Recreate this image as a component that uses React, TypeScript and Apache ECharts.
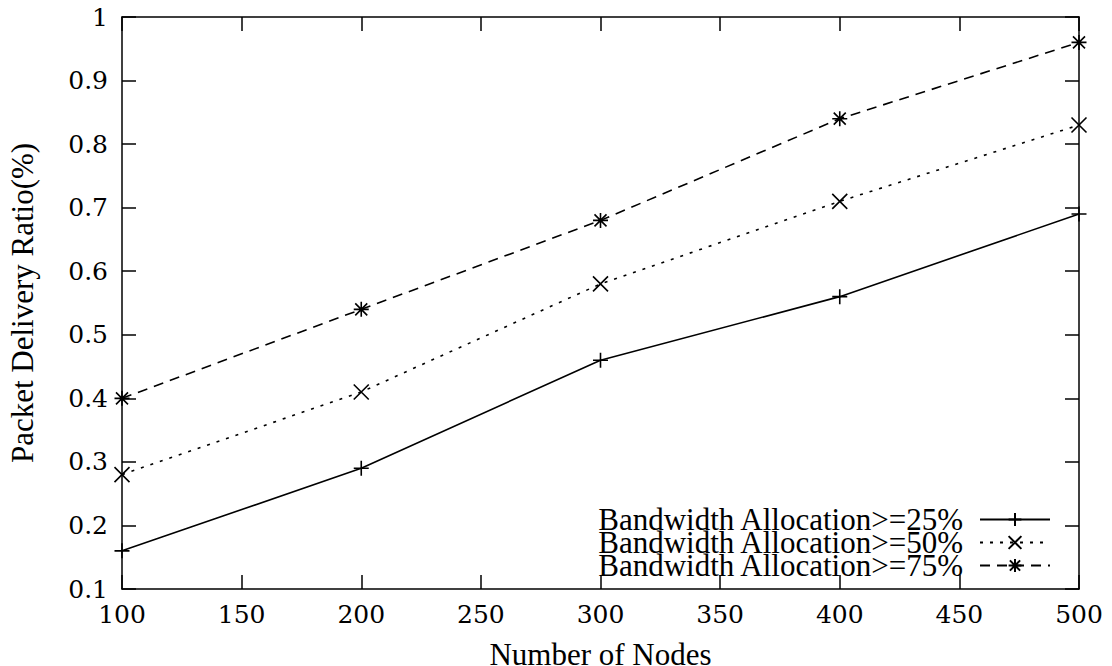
import React, { useEffect, useRef } from "react";
import * as echarts from "echarts";

const nodes = [100, 200, 300, 400, 500];
const bw25 = [0.16, 0.29, 0.46, 0.56, 0.69];
const bw50 = [0.28, 0.41, 0.58, 0.71, 0.83];
const bw75 = [0.40, 0.54, 0.68, 0.84, 0.96];
const seriesNames = [
  "Bandwidth Allocation>=25%",
  "Bandwidth Allocation>=50%",
  "Bandwidth Allocation>=75%",
];

const FONT = "Liberation Serif";
const TICK_FONT = "'DejaVu Serif', serif";
const PLUS = "path://M0,-1L0,1M-1,0L1,0";
const CROSS = "path://M-1,-1L1,1M-1,1L1,-1";
const STAR = "path://M0,-1L0,1M-1,0L1,0M-0.8,-0.8L0.8,0.8M-0.8,0.8L0.8,-0.8";

export default function App() {
  const ref = useRef<HTMLDivElement>(null);
  useEffect(() => {
    if (!ref.current) return;
    const chart = echarts.init(ref.current, undefined, { renderer: "svg" });
    const mk = (name: string, vals: number[], symbol: string, type: any) => ({
      name,
      type: "line",
      data: nodes.map((n, i) => [n, vals[i]]),
      symbol,
      symbolSize: 15,
      lineStyle: { color: "#000", width: 1.6, type },
      itemStyle: { color: "#000", borderColor: "#000", borderWidth: 1.6 },
      emphasis: { disabled: true },
    });
    const axisCommon = {
      type: "value" as const,
      axisLine: { show: true, lineStyle: { color: "#000", width: 1.5 } },
      axisTick: { show: true, inside: true, length: 14, lineStyle: { color: "#000", width: 1.5 } },
      splitLine: { show: false },
    };
    chart.setOption({
      animation: false,
      textStyle: { fontFamily: FONT, color: "#000" },
      grid: { left: 122, right: 33, top: 17, bottom: 77, show: false, containLabel: false, outerBoundsMode: "none" },
      legend: {
        orient: "vertical",
        right: 56,
        top: 499,
        align: "right",
        itemGap: -8,
        itemWidth: 70,
        itemHeight: 16,
        data: seriesNames,
        textStyle: { fontFamily: FONT, fontSize: 31, color: "#000", padding: [0, 12, 0, 0] },
        selectedMode: false,
      },
      xAxis: [
        {
          ...axisCommon,
          min: 100,
          max: 500,
          interval: 50,
          name: "Number of Nodes",
          nameLocation: "middle",
          nameGap: 50,
          nameTextStyle: { fontFamily: FONT, fontSize: 31, color: "#000" },
          axisLabel: { fontFamily: TICK_FONT, fontSize: 25, color: "#000", margin: 13 },
        },
        { ...axisCommon, position: "top", min: 100, max: 500, interval: 50, axisLabel: { show: false } },
      ],
      yAxis: [
        {
          ...axisCommon,
          min: 0.1,
          max: 1,
          interval: 0.1,
          name: "Packet Delivery Ratio(%)",
          nameLocation: "middle",
          nameGap: 84,
          nameTextStyle: { fontFamily: FONT, fontSize: 31, color: "#000" },
          axisLabel: { fontFamily: TICK_FONT, fontSize: 25, color: "#000", margin: 14 },
        },
        { ...axisCommon, position: "right", min: 0.1, max: 1, interval: 0.1, axisLabel: { show: false } },
      ],
      series: [
        mk(seriesNames[0], bw25, PLUS, "solid"),
        mk(seriesNames[1], bw50, CROSS, [3, 7]),
        mk(seriesNames[2], bw75, STAR, [10, 7]),
      ],
    });
    return () => chart.dispose();
  }, []);
  return <div ref={ref} style={{ width: 1112, height: 666, marginLeft: -8, marginTop: -8 }} />;
}
